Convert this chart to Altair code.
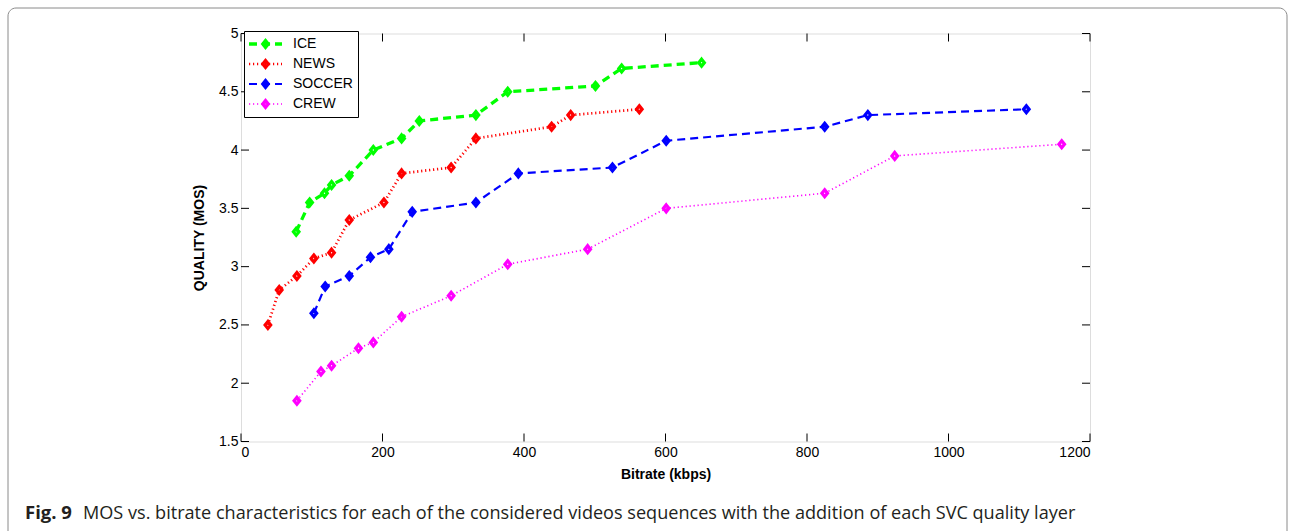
import altair as alt
import pandas as pd

series = ["ICE", "NEWS", "SOCCER", "CREW"]
colors = ["#00ff00", "#ff0000", "#0000ff", "#ff00ff"]
dashes = [[8, 5], [1.2, 2.8], [8, 5], [1.2, 2.8]]
widths = [3.3, 1.6, 3.3, 1.6]

ice_x = [78, 97, 118, 128, 153, 187, 227, 252, 332, 377, 501, 538, 651]
ice_y = [3.30, 3.55, 3.63, 3.70, 3.78, 4.00, 4.10, 4.25, 4.30, 4.50, 4.55, 4.70, 4.75]
news_x = [38, 54, 79, 103, 128, 153, 202, 227, 297, 332, 439, 466, 563]
news_y = [2.50, 2.80, 2.92, 3.07, 3.12, 3.40, 3.55, 3.80, 3.85, 4.10, 4.20, 4.30, 4.35]
soccer_x = [103, 119, 153, 183, 209, 242, 332, 392, 525, 601, 825, 886, 1110]
soccer_y = [2.60, 2.83, 2.92, 3.08, 3.15, 3.47, 3.55, 3.80, 3.85, 4.08, 4.20, 4.30, 4.35]
crew_x = [79, 113, 128, 166, 187, 227, 297, 377, 490, 601, 825, 924, 1160]
crew_y = [1.85, 2.10, 2.15, 2.30, 2.35, 2.57, 2.75, 3.02, 3.15, 3.50, 3.63, 3.95, 4.05]

x_ticks = [0, 200, 400, 600, 800, 1000, 1200]
y_ticks = [1.5, 2, 2.5, 3, 3.5, 4, 4.5, 5]

x_title = "Bitrate (kbps)"
y_title = "QUALITY (MOS)"
caption_bold = "Fig. 9"
caption_rest = ("MOS vs. bitrate characteristics for each of the considered videos "
                "sequences with the addition of each SVC quality layer")

rows = []
for name, xs, ys in [("ICE", ice_x, ice_y), ("NEWS", news_x, news_y),
                     ("SOCCER", soccer_x, soccer_y), ("CREW", crew_x, crew_y)]:
    for i, (xv, yv) in enumerate(zip(xs, ys)):
        rows.append({"series": name, "bitrate": xv, "mos": yv, "idx": i})
df = pd.DataFrame(rows)
xt = pd.DataFrame({"bitrate": x_ticks})
yt = pd.DataFrame({"mos": y_ticks})

W, H = 849, 408
FONT = "Liberation Sans"
TICK = 8

xscale = alt.Scale(domain=[0, 1200], nice=False, zero=False)
yscale = alt.Scale(domain=[1.5, 5], nice=False, zero=False)
cscale = alt.Scale(domain=series, range=colors)

x_axis = alt.Axis(orient="bottom", values=x_ticks, format="d", ticks=False,
                  tickSize=0, domain=False, grid=False, labelPadding=4,
                  labelFont=FONT, labelFontSize=14, labelColor="black",
                  titleFont=FONT, titleFontSize=14, titleFontWeight="bold",
                  titleColor="black", titlePadding=8)
y_axis = alt.Axis(orient="left", values=y_ticks, format="~g", ticks=False,
                  tickSize=0, domain=False, grid=False, labelPadding=3,
                  labelFont=FONT, labelFontSize=14, labelColor="black",
                  titleFont=FONT, titleFontSize=14, titleFontWeight="bold",
                  titleColor="black", titlePadding=12)
X = alt.X("bitrate:Q", scale=xscale, title=x_title, axis=x_axis)
Y = alt.Y("mos:Q", scale=yscale, title=y_title, axis=y_axis)

LEG_SIZE = 225
common_leg = dict(
    title=None, orient="none", legendX=3, legendY=-2.5,
    symbolSize=LEG_SIZE, symbolOffset=7, labelFont=FONT, labelFontSize=14,
    labelOffset=18, padding=5, rowPadding=4, clipHeight=16, labelLimit=200,
)
line_legend = alt.Legend(
    symbolType="M-2.2,0H2.2", symbolStrokeWidth=3,
    labelColor="black", strokeColor="black", fillColor="white",
    cornerRadius=0, zindex=1, **common_leg,
)
point_legend = alt.Legend(
    symbolType="M0,-0.47L0.37,0L0,0.47L-0.37,0Z", symbolStrokeWidth=3.2,
    symbolFillColor="transparent", labelColor="transparent",
    strokeColor="transparent", fillColor="transparent", zindex=2, **common_leg,
)

lines = alt.Chart(df).mark_line().encode(
    x=X, y=Y,
    color=alt.Color("series:N", scale=cscale, legend=line_legend),
    strokeDash=alt.StrokeDash("series:N", scale=alt.Scale(domain=series, range=dashes),
                              legend=line_legend),
    strokeWidth=alt.StrokeWidth("series:N", scale=alt.Scale(domain=series, range=widths),
                                legend=line_legend),
    order="idx:Q",
)

points = alt.Chart(df).mark_point(
    shape="M0,-1.25L1,0L0,1.25L-1,0Z", filled=False, size=31, strokeWidth=3.2, opacity=1
).encode(
    x=X, y=Y,
    color=alt.Color("series:N", scale=cscale, legend=point_legend),
)

tick_style = dict(color="black", strokeWidth=1)
bottom_ticks = alt.Chart(xt).mark_rule(**tick_style).encode(
    x=X, y=alt.value(H), y2=alt.value(H - TICK))
top_ticks = alt.Chart(xt).mark_rule(**tick_style).encode(
    x=X, y=alt.value(0), y2=alt.value(TICK))
left_ticks = alt.Chart(yt).mark_rule(**tick_style).encode(
    y=Y, x=alt.value(0), x2=alt.value(TICK))
right_ticks = alt.Chart(yt).mark_rule(**tick_style).encode(
    y=Y, x=alt.value(W - TICK), x2=alt.value(W))

one = pd.DataFrame({"a": [0]})
frame = alt.Chart(one).mark_rect(
    fill=None, stroke="#8a8a8a", strokeWidth=1, cornerRadius=8
).encode(x=alt.value(-233), x2=alt.value(1046), y=alt.value(-25.5), y2=alt.value(520))

cap1 = alt.Chart(one).mark_text(
    text=caption_bold, font="Open Sans", fontSize=18.5, fontWeight="bold",
    align="left", baseline="alphabetic", color="#231f20"
).encode(x=alt.value(-216), y=alt.value(485))
cap2 = alt.Chart(one).mark_text(
    text=caption_rest, font="Open Sans", fontSize=18.1,
    align="left", baseline="alphabetic", color="#231f20"
).encode(x=alt.value(-158), y=alt.value(485))

chart = alt.layer(
    frame, lines, points, bottom_ticks, top_ticks, left_ticks, right_ticks, cap1, cap2
).resolve_legend(
    color="independent", strokeDash="independent", strokeWidth="independent"
).properties(
    width=W, height=H, autosize=alt.AutoSizeParams(type="none"),
    padding={"left": 241, "top": 33.5, "right": 1292 - 241 - W, "bottom": 531 - 33.5 - H},
).configure_view(stroke="black", strokeWidth=1).configure(background="white")

chart.save("out.html", embed_options={"renderer": "svg", "actions": False})
